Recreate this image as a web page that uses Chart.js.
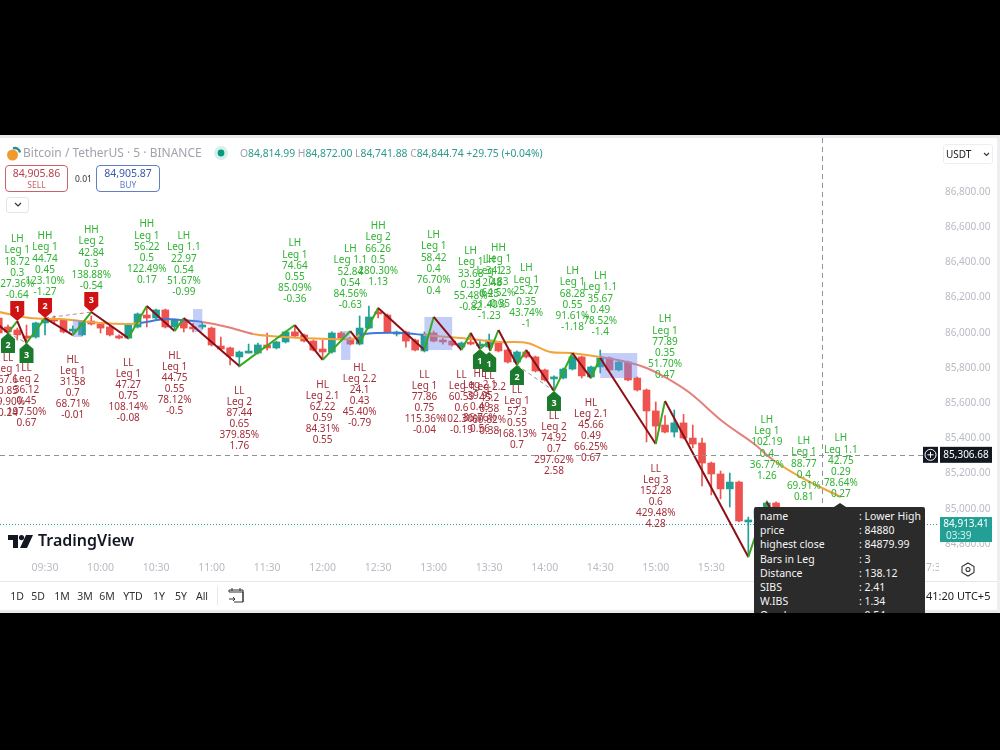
<!DOCTYPE html>
<html>
<head>
<meta charset="utf-8">
<title>BTCUSDT 5m swing legs</title>
<script src="https://cdn.jsdelivr.net/npm/chart.js@4"></script>
<style>
  html, body { margin: 0; background: #000; width: 1000px; height: 750px; overflow: hidden; }
  body, canvas { font-family: "Noto Sans", sans-serif; }
  #panel { position: absolute; left: 0; top: 135px; width: 1000px; height: 478px; background: #fff; box-sizing: border-box; border-top: 3px solid #e9eaee; border-bottom: 3px solid #e9eaee; border-right: 3px solid #eceef1; }
  #stage { position: absolute; left: 0; top: 0; }
  .t { position: absolute; white-space: nowrap; line-height: 1; }
  .box { position: absolute; box-sizing: border-box; background: #fff; }
  #tip { position: absolute; left: 754px; top: 507px; width: 171px; height: 120px; background: #2b2b2b; color: #f5f5f5; font-size: 10.5px; border-radius: 2px; }
  #tip .k, #tip .v { position: absolute; white-space: nowrap; line-height: 14px; }
  #tip .k { left: 6px; }
  #tip .v { left: 105px; }
  #tipArrow { position: absolute; left: 834px; top: 503px; width: 0; height: 0; border-left: 6px solid transparent; border-right: 6px solid transparent; border-bottom: 4px solid #2b2b2b; }
  .bar { position: absolute; left: 0; width: 1000px; background: #000; }
  .range { position: absolute; top: 590px; font-size: 10.5px; color: #333; line-height: 12px; transform: translateX(-50%); }
</style>
</head>
<body>
<div id="panel"></div>
<canvas id="stage" width="1000" height="750"></canvas>

<!-- Symbol header -->
<svg style="position:absolute;left:6px;top:145px" width="16" height="17" viewBox="0 0 16 17">
  <circle cx="6.5" cy="10" r="5.5" fill="#ef9a2d"/>
  <path d="M7 3.5 A5 5 0 0 1 14 7.5" stroke="#2c8c8a" stroke-width="2.4" fill="none"/>
</svg>
<div class="t" style="left:23px;top:147px;font-size:12px;color:#a0a3ab">Bitcoin / TetherUS · 5 · BINANCE</div>
<svg style="position:absolute;left:214px;top:146px" width="14" height="14"><circle cx="7" cy="7" r="7" fill="#d7f0ec"/><circle cx="7" cy="7" r="3.4" fill="#089981"/></svg>
<div class="t" style="left:240px;top:147.5px;font-size:10.35px;color:#2d9a8a"><span style="color:#a0a3ab">O</span>84,814.99 <span style="color:#a0a3ab">H</span>84,872.00 <span style="color:#a0a3ab">L</span>84,741.88 <span style="color:#a0a3ab">C</span>84,844.74 +29.75 (+0.04%)</div>

<div class="box" style="left:5px;top:165px;width:63px;height:27px;border:1px solid #c9626b;border-radius:4px"></div>
<div class="t" style="left:5px;width:63px;text-align:center;top:168px;font-size:10.5px;color:#b8404c">84,905.86</div>
<div class="t" style="left:5px;width:63px;text-align:center;top:181px;font-size:8.5px;color:#c9626b">SELL</div>
<div class="t" style="left:75px;top:175px;font-size:8.5px;color:#333">0.01</div>
<div class="box" style="left:96px;top:165px;width:64px;height:27px;border:1px solid #5d7fc4;border-radius:4px"></div>
<div class="t" style="left:96px;width:64px;text-align:center;top:168px;font-size:10.5px;color:#3a5aa8">84,905.87</div>
<div class="t" style="left:96px;width:64px;text-align:center;top:181px;font-size:8.5px;color:#5d7fc4">BUY</div>
<div class="box" style="left:6px;top:197px;width:23px;height:16px;border:1px solid #e4e5e9;border-radius:3px"></div>
<svg style="position:absolute;left:14px;top:202px" width="8" height="6"><path d="M1 1 L4 4 L7 1" stroke="#333" stroke-width="1.2" fill="none"/></svg>

<div class="box" style="left:943px;top:144px;width:50px;height:20px;border:1px solid #eceef1;border-radius:3px"></div>
<div class="t" style="left:946px;top:149px;font-size:10px;color:#222">USDT</div>
<svg style="position:absolute;left:983px;top:152px" width="7" height="5"><path d="M1 1 L3.5 3.5 L6 1" stroke="#333" stroke-width="1.1" fill="none"/></svg>

<!-- Watermark -->
<svg style="position:absolute;left:8px;top:535px" width="25" height="13" viewBox="0 0 25 13">
  <path d="M0 0H10V13H5V5H0Z" fill="#131722"/><circle cx="13.5" cy="2.6" r="2.6" fill="#131722"/><path d="M18 0H25L19 13H12Z" fill="#131722"/>
</svg>
<div class="t" style="left:38px;top:532px;font-size:16px;font-weight:600;color:#131722">TradingView</div>

<!-- Time axis corner and range bar -->
<div class="box" style="left:939px;top:559px;width:57px;height:21px"></div>
<svg style="position:absolute;left:961px;top:562px" width="14" height="15" viewBox="0 0 14 15"><path d="M7 1 L13 4.5 V10.5 L7 14 L1 10.5 V4.5 Z" stroke="#333" stroke-width="1.1" fill="none"/><circle cx="7" cy="7.5" r="2" stroke="#333" stroke-width="1.1" fill="none"/></svg>
<div class="box" style="left:0;top:581px;width:997px;height:1px;background:#e6e7ea"></div>
<div id="ranges"></div>
<div class="box" style="left:217px;top:586px;width:1px;height:19px;background:#e6e7ea"></div>
<svg style="position:absolute;left:228px;top:587px" width="16" height="17" viewBox="0 0 16 17" fill="none" stroke="#333" stroke-width="1"><path d="M1 5H15V15H6M1 5V3H15V5M4 1V4M12 1V4M15 5V15M1 12H7M5 10L7 12L5 14"/></svg>
<div class="t" style="left:926px;top:590px;font-size:11px;color:#222">41:20 UTC+5</div>

<!-- Swing detail card -->
<div id="tipArrow"></div>
<div id="tip"></div>

<div class="bar" style="top:0;height:135px"></div>
<div class="bar" style="top:613px;height:137px"></div>

<script>
// Time axis and price axis labels
const timeLabels = ['09:30','10:00','10:30','11:00','11:30','12:00','12:30','13:00','13:30','14:00','14:30','15:00','15:30','16:00','16:30','17:00','17:30'];
const priceTicks = [84800,85000,85200,85400,85600,85800,86000,86200,86400,86600,86800];

// Five-minute candles; bar 0 is the 09:30 candle
const firstBar = -5;
const opens  = [86084,86033,86016,85982,85976,86056,86078,86073,86010,85988,86067,86050,86033,85982,85970,86033,86101,86084,86130,86033,86073,86033,86033,86027,85925,85914,85863,85885,85885,85931,85914,85948,86005,85988,85953,85908,85891,85999,85970,85936,86027,86113,86101,85993,86005,85959,85897,85999,85953,85953,85919,85942,85925,85919,85942,85902,85834,85891,85863,85789,85738,85743,85794,85863,85749,85806,85857,85789,85834,85743,85675,85556,85476,85436,85488,85402,85374,85260,85198,85113,85152,84925,84948,84999,85033];
const closes = [85999,86005,85988,85970,86056,86073,86067,86005,86016,86061,86050,86027,85988,85970,86044,86107,86084,86130,86033,86073,86027,86022,86039,85931,85908,85868,85891,85891,85931,85914,85948,86005,85982,85953,85902,85891,85999,85970,85936,86027,86090,86107,86005,85999,85953,85902,85993,85953,85948,85931,85942,85936,85936,85959,85897,85834,85891,85863,85783,85732,85743,85794,85863,85755,85806,85857,85789,85834,85732,85675,85556,85470,85436,85488,85402,85368,85260,85198,85113,85152,84931,84931,84993,85033,84993];
const highs  = [86107,86044,86027,86044,86061,86084,86096,86078,86039,86067,86096,86056,86039,85988,86050,86113,86141,86135,86135,86078,86078,86056,86061,86033,85976,85919,85897,85936,85942,85999,85953,86010,86039,85993,85959,85959,86005,86005,85976,86096,86152,86141,86107,86010,86010,85965,86005,86010,85970,85959,85948,85999,85959,85993,85948,85908,85897,85902,85868,85794,85755,85800,85868,85868,85811,85902,85863,85840,85840,85749,85681,85607,85530,85561,85536,85476,85402,85266,85215,85203,85158,84953,85000,85045,85040];
const lows   = [85988,85993,85959,85931,85970,85988,86050,85999,85999,85982,86044,85999,85982,85965,85965,86027,86033,86078,86027,86016,86005,86005,86022,85925,85902,85817,85806,85885,85880,85902,85908,85942,85976,85948,85897,85857,85885,85965,85931,85931,86022,86084,85999,85982,85919,85897,85891,85948,85936,85925,85914,85931,85919,85914,85891,85828,85828,85857,85777,85726,85675,85738,85789,85743,85743,85772,85783,85783,85726,85669,85380,85374,85431,85408,85397,85346,85130,85079,85056,85010,84925,84726,84940,84990,84985];

// Moving average line, coloured by trend state
const emaBars   = [-4.9,-1.6,1.6,6,8.9,10.3,13,14.6,17,19.7,22.5,24.3,27.9,33.3,34,36,38.7,40.9,44.9,49.2,52.1,54.6,56.8,60,62.9,65,67.2,69.7,73.3,76.5,78.7,81.6,86];
const emaPrices = [86118,86084,86078,86056,86050,86056,86078,86073,86061,86033,85993,85982,85970,85965,85988,85999,85999,85988,85970,85948,85942,85891,85885,85863,85834,85800,85743,85658,85493,85374,85277,85181,85067];
const emaStates = ['up','up','up','up','up','bull','bull','bull','bear','bear','up','up','up','up','bull','bull','bull','up','up','up','up','up','up','bear','bear','bear','bear','bear','bear','bear','up','up','up'];

// Swing pivots joined by the zigzag
const pivotBars   = [-5,-4,-3,-2,0,3,5,9,11,14,15,21,27,30,33,34,36,41,42,45,46,47,47.9,48.1,49,51,52,55,57,59,60,66,67,76,78,80,82,84,86];
const pivotPrices = [86044,85999,86067,85942,86084,85987,86118,85970,86152,86010,86084,85811,86044,85846,86010,85942,86141,85902,86090,85902,85999,85908,85948,85897,86016,85817,85902,85669,85885,85743,85857,85368,85612,84726,85039,84850,84919,84850,84936];

// Dashed links between same-direction pivots: [bar, price, bar, price, colour]
const trendLinks = [
  [-4,85999,-2,85942,'#8a9a8c'],
  [0,86084,5,86118,'#b98a8c'],
  [51,85817,55,85669,'#8a9a8c']
];

// Imbalance zones: [first bar, last bar, high, low]
const zones = [
  [3,4,86073,85976],
  [16,17,86135,86005],
  [32,33,86010,85846],
  [41,44,86090,85902],
  [60,64,85885,85743]
];

// Numbered structure flags: [bar, price, number, side]
const flags = [
  [-3,86067,'1','high'],[0,86084,'2','high'],[5,86118,'3','high'],
  [-4,85999,'2','low'],[-2,85942,'3','low'],
  [47,85908,'1','low'],[48,85891,'1','low'],[51,85817,'2','low'],[55,85669,'3','low']
];

// Swing high annotations: [bar, price, text lines...]
const highNotes = [
  [-3,86067,'LH','Leg 1','18.72','0.3','27.36%','-0.64'],
  [0,86084,'HH','Leg 1','44.74','0.45','123.10%','-1.27'],
  [5,86118,'HH','Leg 2','42.84','0.3','138.88%','-0.54'],
  [11,86152,'HH','Leg 1','56.22','0.5','122.49%','0.17'],
  [15,86084,'LH','Leg 1.1','22.97','0.54','51.67%','-0.99'],
  [27,86044,'LH','Leg 1','74.64','0.55','85.09%','-0.36'],
  [33,86010,'LH','Leg 1.1','52.84','0.54','84.56%','-0.63'],
  [36,86141,'HH','Leg 2','66.26','0.5','280.30%','1.13'],
  [42,86090,'LH','Leg 1','58.42','0.4','76.70%','0.4'],
  [46,85999,'LH','Leg 1','33.68','0.35','55.48%','-0.82'],
  [48,85948,'LH','Leg 1','12.48','0.25','21.40%','-1.23'],
  [49,86016,'HH','Leg 1','34.23','0.83','64.52%','-0.35'],
  [52,85902,'LH','Leg 1','25.27','0.35','43.74%','-1'],
  [57,85885,'LH','Leg 1','68.28','0.55','91.61%','-1.18'],
  [60,85857,'LH','Leg 1.1','35.67','0.49','78.52%','-1.4'],
  [67,85612,'LH','Leg 1','77.89','0.35','51.70%','0.47'],
  [78,85039,'LH','Leg 1','102.19','0.4','36.77%','1.26'],
  [82,84919,'LH','Leg 1','88.77','0.4','69.91%','0.81'],
  [86,84936,'LH','Leg 1.1','42.75','0.29','78.64%','0.27']
];

// Swing low annotations: [bar, price, text lines...]
const lowNotes = [
  [-4,85999,'LL','Leg 1','67.6','0.85','69.90%','0.24'],
  [-2,85942,'LL','Leg 2','36.12','0.45','197.50%','0.67'],
  [3,85987,'HL','Leg 1','31.58','0.7','68.71%','-0.01'],
  [9,85970,'LL','Leg 1','47.27','0.75','108.14%','-0.08'],
  [14,86010,'HL','Leg 1','44.75','0.55','78.12%','-0.5'],
  [21,85811,'LL','Leg 2','87.44','0.65','379.85%','1.76'],
  [30,85846,'HL','Leg 2.1','62.22','0.59','84.31%','0.55'],
  [34,85942,'HL','Leg 2.2','24.1','0.43','45.40%','-0.79'],
  [41,85902,'LL','Leg 1','77.86','0.75','115.36%','-0.04'],
  [45,85902,'LL','Leg 1','60.59','0.6','102.30%','-0.19'],
  [47,85908,'HL','Leg 2.1','39.95','0.49','86.76%','0.56'],
  [48,85897,'LL','Leg 2.2','45.2','0.38','69.82%','0.38'],
  [51,85817,'LL','Leg 1','57.3','0.55','168.13%','0.7'],
  [55,85669,'LL','Leg 2','74.92','0.7','297.62%','2.58'],
  [59,85743,'HL','Leg 2.1','45.66','0.49','66.25%','0.67'],
  [66,85368,'LL','Leg 3','152.28','0.6','429.48%','4.28']
];

// Crosshair and last trade
const crossBar = 84;
const crossPrice = 85306.68;
const lastPrice = 84913.41;
const lastCountdown = '03:39';

// Detail card rows
const cardKeys = ['name','price','highest close','Bars in Leg','Distance','SIBS','W.IBS','Overlap'];
const cardVals = ['Lower High','84880','84879.99','3','138.12','2.41','1.34','0.54'];

// Range buttons and their centres
const rangeNames = ['1D','5D','1M','3M','6M','YTD','1Y','5Y','All'];
const rangeLefts = [17,38,62,85,107,133,159,181,202];

rangeNames.forEach((name, i) => {
  const el = document.createElement('div');
  el.className = 'range';
  el.style.left = rangeLefts[i] + 'px';
  el.textContent = name;
  document.getElementById('ranges').appendChild(el);
});
const tip = document.getElementById('tip');
cardKeys.forEach((k, i) => {
  const top = 2 + i * 14.2;
  tip.insertAdjacentHTML('beforeend', `<div class="k" style="top:${top}px">${k}</div><div class="v" style="top:${top}px">: ${cardVals[i]}</div>`);
});

const UP = '#22a095', DOWN = '#ef5350';
const barsX = opens.map((_, i) => firstBar + i);
const isUp = opens.map((o, i) => closes[i] >= o);
const barColours = isUp.map(u => u ? UP : DOWN);
const emaColours = { up: '#f2a33a', bull: '#3f78d8', bear: '#e57f7a' };
const FONT = '"Noto Sans", sans-serif';

const overlays = {
  id: 'overlays',
  afterDatasetDraw(chart, args) {
    // zones sit over the candles and the average but under the zigzag
    if (chart.data.datasets[args.index].label !== 'EMA') return;
    const { ctx, scales: { x, y } } = chart;
    ctx.save();
    ctx.fillStyle = 'rgba(120,145,240,0.45)';
    zones.forEach(([a, b, hi, lo]) => {
      const l = x.getPixelForValue(a), r = x.getPixelForValue(b);
      const t = y.getPixelForValue(hi), m = y.getPixelForValue(lo);
      ctx.fillRect(l, t, r - l, m - t);
    });
    ctx.restore();
  },
  afterDatasetsDraw(chart) {
    const { ctx, chartArea: area, scales: { x, y } } = chart;
    ctx.save();

    // crosshair and last-price guides
    ctx.lineWidth = 1;
    ctx.strokeStyle = '#8f9299';
    ctx.setLineDash([5, 4]);
    const cy = Math.round(y.getPixelForValue(crossPrice)) + 0.5;
    const cx = Math.round(x.getPixelForValue(crossBar)) + 0.5;
    ctx.beginPath(); ctx.moveTo(area.left, cy); ctx.lineTo(area.right, cy); ctx.stroke();
    ctx.beginPath(); ctx.moveTo(cx, area.top); ctx.lineTo(cx, area.bottom); ctx.stroke();
    ctx.strokeStyle = '#22a095';
    ctx.setLineDash([1, 2]);
    const ly = Math.round(y.getPixelForValue(lastPrice)) + 0.5;
    ctx.beginPath(); ctx.moveTo(area.left, ly); ctx.lineTo(area.right, ly); ctx.stroke();
    ctx.setLineDash([]);

    // flags
    ctx.textAlign = 'center';
    ctx.textBaseline = 'middle';
    flags.forEach(([bar, price, num, side]) => {
      const px = x.getPixelForValue(bar), py = y.getPixelForValue(price);
      const dir = side === 'high' ? -1 : 1;
      const hw = 7, h = 20, neck = 6;
      ctx.fillStyle = side === 'high' ? '#cf1212' : '#1b7a2c';
      ctx.beginPath();
      ctx.moveTo(px, py);
      ctx.lineTo(px + hw, py + dir * neck);
      ctx.lineTo(px + hw, py + dir * h);
      ctx.lineTo(px - hw, py + dir * h);
      ctx.lineTo(px - hw, py + dir * neck);
      ctx.closePath();
      ctx.fill();
      ctx.fillStyle = '#fff';
      ctx.font = 'bold 9px ' + FONT;
      ctx.fillText(num, px, py + dir * 12);
    });

    // swing annotations
    const lineGap = 11.1;
    ctx.font = '10px ' + FONT;
    ctx.fillStyle = '#2fb332';
    highNotes.forEach(([bar, price, ...lines]) => {
      const px = x.getPixelForValue(bar), py = y.getPixelForValue(price);
      lines.forEach((s, i) => ctx.fillText(s, px, py - 26 - (lines.length - 1 - i) * lineGap));
    });
    ctx.fillStyle = '#a32f3a';
    lowNotes.forEach(([bar, price, ...lines]) => {
      const px = x.getPixelForValue(bar), py = y.getPixelForValue(price);
      lines.forEach((s, i) => ctx.fillText(s, px, py + 25 + i * lineGap));
    });
    ctx.restore();
  },
  afterDraw(chart) {
    const { ctx, scales: { y } } = chart;
    ctx.save();
    ctx.textBaseline = 'middle';
    ctx.textAlign = 'center';
    // crosshair price tag
    const cy = y.getPixelForValue(crossPrice);
    ctx.fillStyle = '#131722';
    ctx.fillRect(923, cy - 8, 15, 16);
    ctx.fillRect(940, cy - 8, 52, 16);
    ctx.strokeStyle = '#fff';
    ctx.lineWidth = 1;
    ctx.beginPath(); ctx.arc(930.5, cy, 5.5, 0, Math.PI * 2);
    ctx.moveTo(930.5, cy - 3); ctx.lineTo(930.5, cy + 3);
    ctx.moveTo(927.5, cy); ctx.lineTo(933.5, cy);
    ctx.stroke();
    ctx.fillStyle = '#fff';
    ctx.font = '10px ' + FONT;
    ctx.fillText(crossPrice.toLocaleString('en-US', { minimumFractionDigits: 2 }), 966, cy);
    // last price tag
    const ly = y.getPixelForValue(lastPrice);
    ctx.fillStyle = '#22a095';
    ctx.fillRect(940, ly - 7, 52, 25);
    ctx.fillStyle = '#fff';
    ctx.fillText(lastPrice.toLocaleString('en-US', { minimumFractionDigits: 2 }), 966, ly);
    ctx.textAlign = 'left';
    ctx.fillStyle = '#d8f2ee';
    ctx.fillText(lastCountdown, 946, ly + 12);
    ctx.restore();
  }
};

new Chart(document.getElementById('stage'), {
  type: 'bar',
  data: {
    datasets: [
      {
        label: 'Wicks', order: 6, barThickness: 1, grouped: false,
        data: barsX.map((b, i) => ({ x: b, y: [lows[i], highs[i]] })),
        backgroundColor: barColours
      },
      {
        label: 'Bodies', order: 5, barThickness: 7, grouped: false, minBarLength: 2,
        data: barsX.map((b, i) => ({ x: b, y: [opens[i], closes[i]] })),
        backgroundColor: barColours
      },
      {
        type: 'line', label: 'EMA', order: 4, borderWidth: 2, pointRadius: 0, tension: 0.35,
        data: emaBars.map((b, i) => ({ x: b, y: emaPrices[i] })),
        borderColor: emaColours.up,
        segment: { borderColor: c => emaColours[emaStates[c.p0DataIndex]] }
      },
      ...trendLinks.map(([a, pa, b, pb, colour]) => ({
        type: 'line', label: 'Link', order: 3, borderWidth: 1, pointRadius: 0, borderDash: [4, 3],
        borderColor: colour,
        data: [{ x: a, y: pa }, { x: b, y: pb }]
      })),
      {
        type: 'line', label: 'Zigzag', order: 1, borderWidth: 2, pointRadius: 0, tension: 0,
        data: pivotBars.map((b, i) => ({ x: b, y: pivotPrices[i] })),
        borderColor: '#3aa51f',
        segment: { borderColor: c => c.p1.parsed.y > c.p0.parsed.y ? '#39a81f' : '#8c0f16' }
      }
    ]
  },
  plugins: [overlays],
  options: {
    responsive: false,
    animation: false,
    events: [],
    font: { family: FONT },
    layout: { padding: { left: 0, right: 4, top: 138, bottom: 170 } },
    plugins: { legend: { display: false }, tooltip: { enabled: false } },
    scales: {
      x: {
        type: 'linear',
        offset: false,
        min: -4.865, max: 96.5,
        border: { display: false },
        grid: { display: false, drawTicks: false, offset: false },
        afterFit: s => { s.height = 22; },
        ticks: {
          stepSize: 6, includeBounds: false, autoSkip: false, maxRotation: 0, padding: 4,
          color: '#b8bbc3', font: { size: 10.5, family: FONT },
          callback: v => timeLabels[Math.round(v / 6)] || ''
        }
      },
      y: {
        type: 'linear',
        position: 'right',
        min: 84720.4, max: 87107,
        border: { display: false },
        grid: { display: false, drawTicks: false },
        afterBuildTicks: s => { s.ticks = priceTicks.map(value => ({ value })); },
        afterFit: s => { s.width = 58; },
        ticks: {
          autoSkip: false, padding: 7,
          color: '#b8bbc3', font: { size: 10, family: FONT },
          callback: v => v.toLocaleString('en-US', { minimumFractionDigits: 2 })
        }
      }
    }
  }
});
</script>
</body>
</html>
